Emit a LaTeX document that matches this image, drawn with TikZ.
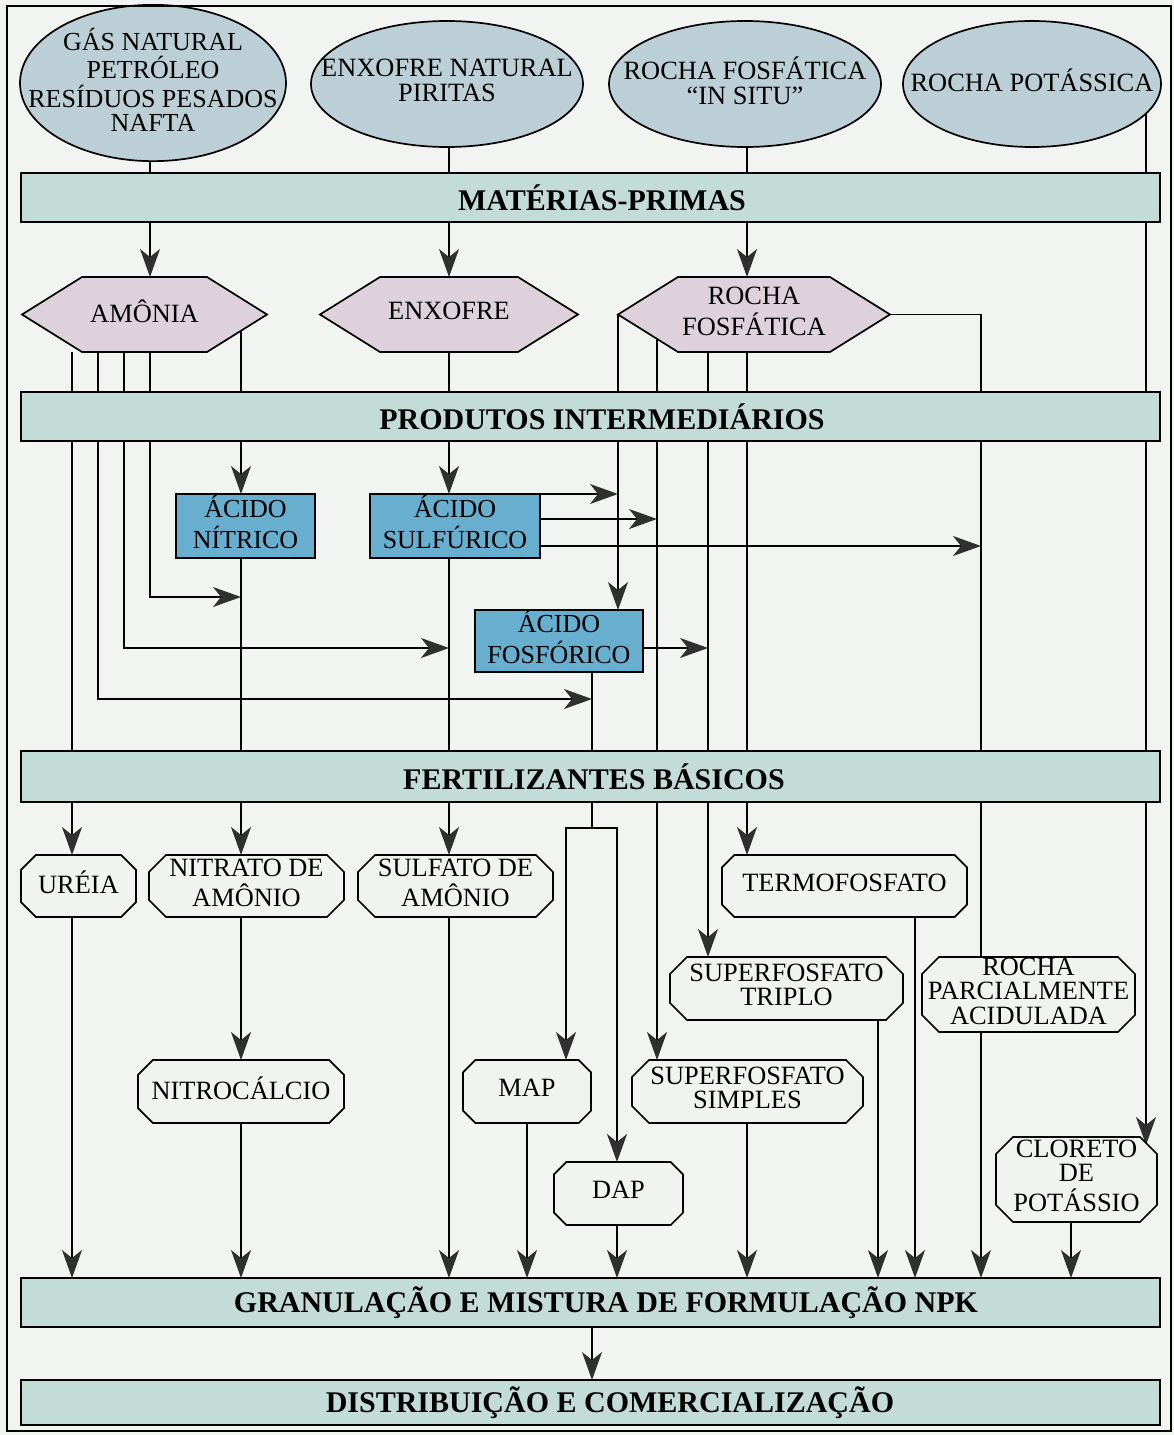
\documentclass[tikz,border=0pt]{standalone}
\usepackage{fontspec}
\setmainfont{Liberation Serif}
\usetikzlibrary{shapes.geometric,shapes.symbols,shapes.misc,arrows.meta,backgrounds,calc}

\definecolor{paper}{RGB}{242,244,242}
\definecolor{srcfill}{RGB}{188,207,214}
\definecolor{barfill}{RGB}{196,220,216}
\definecolor{hexfill}{RGB}{222,209,219}
\definecolor{acidfill}{RGB}{104,174,207}
\definecolor{prodfill}{RGB}{241,243,241}
\definecolor{tipgrey}{RGB}{48,48,48}

% centred multi-line label that does not widen its node
\newcommand{\ctr}[1]{\makebox[0pt]{\begin{tabular}{@{}c@{}}#1\end{tabular}}}

\begin{document}
\begin{tikzpicture}[x=1pt,y=-1pt,
  every node/.style={inner sep=0pt,outer sep=0pt},
  lbl/.style={font=\fontsize{26.4}{24}\selectfont},
  src/.style={ellipse,draw,line width=1.7pt,fill=srcfill,lbl,minimum height=126pt},
  stage/.style={rectangle,draw,line width=1.8pt,fill=barfill,minimum width=1139pt,
     font=\fontsize{30}{30}\selectfont\bfseries},
  hexa/.style={signal,signal to=east and west,signal pointer angle=64,draw,
     line width=1.7pt,fill=hexfill,minimum height=75pt,lbl},
  acid/.style={rectangle,draw,line width=1.7pt,fill=acidfill,
     font=\fontsize{26}{28}\selectfont},
  prod/.style={chamfered rectangle,chamfered rectangle xsep=17pt,draw,
     line width=1.7pt,fill=prodfill,lbl},
  conn/.style={line width=1.4pt},
  arr/.style={conn,-{Stealth[length=28pt,width=20pt,inset=8pt,color=tipgrey]}},
]
\useasboundingbox (0,0) rectangle (1174,1435);

% raw materials
\node[src,minimum width=266pt,font=\fontsize{26}{22}\selectfont] (gas) at (153,83)
  {\ctr{GÁS NATURAL\\PETRÓLEO\\RESÍDUOS PESADOS\\NAFTA}};
\node[src,minimum width=272pt] (enx) at (447,84) {\ctr{ENXOFRE NATURAL\\PIRITAS}};
\node[src,minimum width=272pt] (rfi) at (745,84) {\ctr{ROCHA FOSFÁTICA\\“IN SITU”}};
\node[src,minimum width=258pt] (rpo) at (1032,84) {\ctr{ROCHA POTÁSSICA}};

% stage bars
\node[stage,minimum height=49pt] (mp) at (590.5,197.5) {\hspace*{23pt}MATÉRIAS-PRIMAS};
\node[stage,minimum height=49pt] (pi) at (590.5,416.5) {\hspace*{23pt}PRODUTOS INTERMEDIÁRIOS};
\node[stage,minimum height=51pt] (fb) at (590.5,776.5) {\hspace*{7pt}FERTILIZANTES BÁSICOS};
\node[stage,minimum height=49pt] (gran) at (590.5,1302.5) {\hspace*{31pt}GRANULAÇÃO E MISTURA DE FORMULAÇÃO NPK};
\node[stage,minimum height=45pt] (dist) at (590.5,1402.5) {\hspace*{39pt}DISTRIBUIÇÃO E COMERCIALIZAÇÃO};

% intermediate products
\node[hexa,minimum width=245pt] (amo) at (144.5,314.5) {\ctr{AMÔNIA}};
\node[hexa,minimum width=258pt] (enxofre) at (449,314.5) {\ctr{ENXOFRE}};
\node[hexa,minimum width=272pt,font=\fontsize{26.4}{28}\selectfont] (rocha) at (754,314.5)
  {\ctr{ROCHA\\FOSFÁTICA}};

% acids
\node[acid,minimum width=139pt,minimum height=64pt] (nit) at (245.5,526) {\ctr{ÁCIDO\\NÍTRICO}};
\node[acid,minimum width=170pt,minimum height=64pt] (sulf) at (455,526) {\ctr{ÁCIDO\\SULFÚRICO}};
\node[acid,minimum width=168pt,minimum height=62pt] (phos) at (559,641) {\ctr{ÁCIDO\\FOSFÓRICO}};

% fertilizers
\node[prod,minimum width=115pt,minimum height=62pt] (urea) at (78.5,886) {\ctr{URÉIA}};
\node[prod,minimum width=195pt,minimum height=62pt] (nitam) at (246.5,886) {\ctr{NITRATO DE\\AMÔNIO}};
\node[prod,minimum width=195pt,minimum height=62pt] (sulam) at (455.5,886) {\ctr{SULFATO DE\\AMÔNIO}};
\node[prod,minimum width=245pt,minimum height=62pt] (termo) at (844.5,886) {\ctr{TERMOFOSFATO}};
\node[prod,minimum width=233pt,minimum height=63pt] (tsp) at (786.5,988.5) {\ctr{SUPERFOSFATO\\TRIPLO}};
\node[prod,minimum width=213pt,minimum height=75pt,font=\fontsize{26.4}{22}\selectfont] (rpa) at (1028.5,994.5)
  {\ctr{ROCHA\\PARCIALMENTE\\ACIDULADA}};
\node[prod,minimum width=206pt,minimum height=63pt] (nitroc) at (241,1091.5) {\ctr{NITROCÁLCIO}};
\node[prod,minimum width=128pt,minimum height=63pt] (map) at (527,1091.5) {\ctr{MAP}};
\node[prod,minimum width=231pt,minimum height=63pt] (ssp) at (747.5,1091.5) {\ctr{SUPERFOSFATO\\SIMPLES}};
\node[prod,minimum width=129pt,minimum height=63pt] (dap) at (618.5,1193.5) {\ctr{DAP}};
\node[prod,minimum width=161pt,minimum height=85pt] (kcl) at (1076.5,1179.5) {\ctr{CLORETO\\DE\\POTÁSSIO}};

\draw[line width=1.4pt] (7,6) rectangle (1171,1431);

\coordinate (jN) at (241,597);
\coordinate (jS) at (449,648);
\coordinate (jP) at (592,699);
\coordinate (jMD) at (592,828);

\begin{scope}[on background layer]
\fill[paper] (0,0) rectangle (1174,1435);
% raw materials to intermediates
\draw[arr] (150,0 |- gas.center) -- (150,0 |- amo.north);
\draw[arr] (449,0 |- enx.center) -- (449,0 |- enxofre.north);
\draw[arr] (747,0 |- rfi.center) -- (747,0 |- rocha.north);
\draw[arr] (1146,0 |- rpo.center) -- ($(kcl.north)+(69.5,8)$);
% ammonia
\draw[arr] (72,0 |- amo.south) -- (72,0 |- urea.north);
\draw[arr] (98,0 |- amo.south) |- (jP);
\draw[arr] (124,0 |- amo.south) |- (jS);
\draw[arr] (150,0 |- amo.south) |- (jN);
\draw[arr] (241,0 |- amo.center) -- (241,0 |- nit.north);
% sulphur and sulphuric acid
\draw[arr] (449,0 |- enxofre.center) -- (449,0 |- sulf.north);
\draw[arr] (sulf.north east) -- (rocha.west |- sulf.north east);
\draw[arr] (sulf.east |- 0,519) -- (657,519);
\draw[arr] (sulf.east |- 0,546) -- (981,546);
% phosphate rock
\draw[arr] (rocha.west) -- (rocha.west |- phos.north);
\draw[arr] (657,0 |- rocha.center) -- (657,0 |- ssp.north);
\draw[arr] (708,0 |- rocha.center) -- (708,0 |- tsp.north);
\draw[arr] (747,0 |- rocha.center) -- (747,0 |- termo.north);
\draw[conn] (rocha.east) -| (981,0 |- rpa.north);
% phosphoric acid
\draw[arr] (phos.east |- 0,648) -- (708,648);
\draw[conn] (592,0 |- phos.south) -- (jMD);
\draw[arr] (jMD) -| (566,0 |- map.north);
\draw[arr] (jMD) -| (617,0 |- dap.north);
% nitric and sulphuric acid products
\draw[arr] (241,0 |- nit.south) -- (241,0 |- nitam.north);
\draw[arr] (449,0 |- sulf.south) -- (449,0 |- sulam.north);
\draw[arr] (241,0 |- nitam.south) -- (241,0 |- nitroc.north);
% into granulation
\foreach \n/\x in {urea/72,nitroc/241,sulam/449,map/527,dap/617,ssp/747,tsp/878,termo/915,rpa/981,kcl/1071}
  \draw[arr] (\x,0 |- \n.south) -- (\x,0 |- gran.north);
\draw[arr] (592,0 |- gran.south) -- (592,0 |- dist.north);
\end{scope}
\end{tikzpicture}
\end{document}
